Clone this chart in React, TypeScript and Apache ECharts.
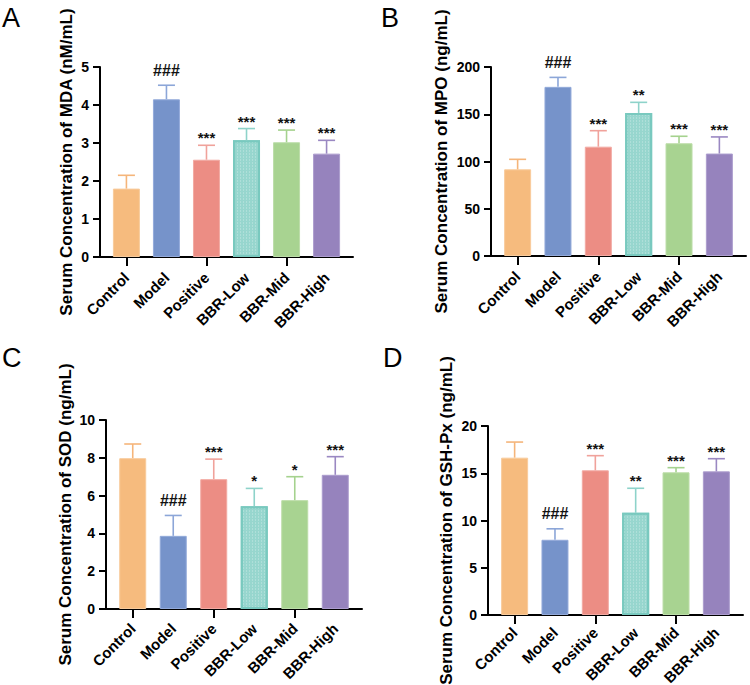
import React, { useEffect, useRef } from "react";
import * as echarts from "echarts";

const categories = ["Control", "Model", "Positive", "BBR-Low", "BBR-Mid", "BBR-High"];

const mdaMean = [1.8, 4.15, 2.56, 3.07, 3.02, 2.72];
const mdaSd = [0.35, 0.37, 0.38, 0.31, 0.32, 0.35];
const mdaMarks = ["", "###", "***", "***", "***", "***"];

const mpoMean = [91.7, 179, 115.7, 151.4, 119.3, 108.4];
const mpoSd = [10.6, 10, 16.9, 11.2, 7.4, 17.6];
const mpoMarks = ["", "###", "***", "**", "***", "***"];

const sodMean = [7.98, 3.87, 6.87, 5.44, 5.76, 7.1];
const sodSd = [0.75, 1.08, 1.06, 0.94, 1.24, 0.96];
const sodMarks = ["", "###", "***", "*", "*", "***"];

const gshMean = [16.65, 7.96, 15.31, 10.81, 15.1, 15.2];
const gshSd = [1.65, 1.16, 1.55, 2.6, 0.49, 1.34];
const gshMarks = ["", "###", "***", "**", "***", "***"];

const yTicksMax = [5, 200, 10, 20];
const yTicksStep = [1, 50, 2, 5];
const yNames = [
  "Serum Concentration of MDA (nM/mL)",
  "Serum Concentration of MPO (ng/mL)",
  "Serum Concentration of SOD (ng/mL)",
  "Serum Concentration of GSH-Px (ng/mL)",
];
const panelLetters = ["A", "B", "C", "D"];

const barColors = ["#F6BB7E", "#7693CA", "#EC8D84", "#97D6CE", "#A8D391", "#9683BD"];
const barBorders = ["#F8CB9C", "#93AADA", "#F2AAA3", "#79C9BF", "#BCDDA9", "#AC9DCE"];
const errColors = ["#F5B57A", "#8CA6D8", "#F0A29B", "#8ED3CA", "#A5D28E", "#9A88C2"];

const FONT = "'Liberation Sans', Arial, Helvetica, sans-serif";
const X_MIN = -0.66;
const X_MAX = 5.66;

export default function App() {
  const ref = useRef<HTMLDivElement>(null);

  useEffect(() => {
    if (!ref.current) return;
    const chart = echarts.init(ref.current, null, { renderer: "svg" });

    const panels = [
      { mean: mdaMean, sd: mdaSd, marks: mdaMarks },
      { mean: mpoMean, sd: mpoSd, marks: mpoMarks },
      { mean: sodMean, sd: sodSd, marks: sodMarks },
      { mean: gshMean, sd: gshSd, marks: gshMarks },
    ];

    const gridBoxes = [
      { left: 100, top: 67, width: 253, height: 190 },
      { left: 491, top: 67, width: 255, height: 189 },
      { left: 106, top: 420, width: 256, height: 189 },
      { left: 488, top: 426, width: 255, height: 189 },
    ];
    const nameGaps = [25, 41, 32, 33];
    const labelMargins = [18, 18, 17, 15];
    const letterPos = [
      { x: 2, y: 4 },
      { x: 381, y: 4 },
      { x: 2, y: 344 },
      { x: 383, y: 344 },
    ];

    const idx = categories.map((_, i) => i);
    const span = X_MAX - X_MIN;

    const grids: any[] = gridBoxes.map((g) => ({ ...g, containLabel: false, outerBoundsMode: "none" }));
    gridBoxes.forEach((g) => {
      const unit = g.width / span;
      grids.push({
        left: g.left + (-0.5 - X_MIN) * unit,
        top: g.top,
        width: 6 * unit,
        height: g.height,
        containLabel: false,
        outerBoundsMode: "none",
      });
    });

    const xAxes: any[] = gridBoxes.map((_, p) => ({
      type: "value",
      gridIndex: p,
      min: X_MIN,
      max: X_MAX,
      splitLine: { show: false },
      axisLine: { show: true, onZero: false, lineStyle: { color: "#000", width: 2 } },
      axisTick: { show: false },
      axisLabel: {
        customValues: idx,
        formatter: (v: number) => categories[Math.round(v)] ?? "",
        rotate: 45,
        fontSize: 15,
        fontWeight: "bold",
        color: "#000",
        fontFamily: FONT,
        margin: labelMargins[p],
      },
    }));
    gridBoxes.forEach((_, p) => {
      xAxes.push({
        type: "category",
        gridIndex: p + 4,
        data: categories,
        boundaryGap: true,
        splitLine: { show: false },
        axisLine: { show: false, onZero: false },
        axisTick: { show: true, alignWithLabel: true, length: 9, lineStyle: { color: "#000", width: 2 } },
        axisLabel: { show: false },
      });
    });

    const yAxes: any[] = gridBoxes.map((_, p) => ({
      type: "value",
      gridIndex: p,
      min: 0,
      max: yTicksMax[p],
      interval: yTicksStep[p],
      splitLine: { show: false },
      axisLine: { show: true, onZero: false, lineStyle: { color: "#000", width: 2 } },
      axisTick: { show: true, length: 7, lineStyle: { color: "#000", width: 2 } },
      axisLabel: { fontSize: 14, fontWeight: "bold", color: "#000", fontFamily: FONT, margin: 11 },
      name: yNames[p],
      nameLocation: "middle",
      nameGap: nameGaps[p],
      nameMoveOverlap: false,
      nameTextStyle: { fontSize: 17, fontWeight: "bold", color: "#000", fontFamily: FONT },
    }));
    gridBoxes.forEach((_, p) => {
      yAxes.push({
        type: "value",
        gridIndex: p + 4,
        min: 0,
        max: yTicksMax[p],
        show: false,
        splitLine: { show: false },
      });
    });

    const series: any[] = [];
    panels.forEach((pn, p) => {
      series.push({
        type: "bar",
        xAxisIndex: p,
        yAxisIndex: p,
        barWidth: 27,
        data: pn.mean.map((v, j) => ({
          value: [j, v],
          itemStyle: {
            color: barColors[j],
            borderColor: barBorders[j],
            borderWidth: j === 3 ? 2 : 1,
            decal:
              j === 3
                ? {
                    symbol: "rect",
                    symbolSize: 1,
                    color: "rgba(255,255,255,0.22)",
                    dashArrayX: [1, 2],
                    dashArrayY: [2, 1],
                  }
                : undefined,
          },
        })),
        z: 2,
      });
      series.push({
        type: "custom",
        xAxisIndex: p,
        yAxisIndex: p,
        clip: false,
        data: pn.mean.map((v, j) => [j, v, pn.sd[j]]),
        z: 3,
        renderItem: (params: any, api: any) => {
          const j = params.dataIndex;
          const x = api.value(0);
          const m = api.value(1);
          const s = api.value(2);
          const b = api.coord([x, m]);
          const t = api.coord([x, m + s]);
          const mark = pn.marks[j];
          const isHash = mark.indexOf("#") >= 0;
          const children: any[] = [
            {
              type: "line",
              shape: { x1: b[0], y1: b[1], x2: t[0], y2: t[1] },
              style: { stroke: errColors[j], lineWidth: 1.6 },
            },
            {
              type: "line",
              shape: { x1: t[0] - 8.5, y1: t[1], x2: t[0] + 8.5, y2: t[1] },
              style: { stroke: errColors[j], lineWidth: 1.6 },
            },
          ];
          if (mark) {
            children.push({
              type: "text",
              x: t[0],
              y: t[1] - (isHash ? 7 : 0),
              style: {
                text: mark,
                textAlign: "center",
                textVerticalAlign: "bottom",
                fontSize: isHash ? 16 : 15,
                fontWeight: "bold",
                fontFamily: FONT,
                fill: "#111",
              },
            });
          }
          return { type: "group", children };
        },
      });
    });

    const graphics = panelLetters.map((l, p) => ({
      type: "text",
      left: letterPos[p].x,
      top: letterPos[p].y,
      style: { text: l, fontSize: 27, fontFamily: FONT, fill: "#000" },
    }));

    chart.setOption({
      animation: false,
      backgroundColor: "#fff",
      textStyle: { fontFamily: FONT },
      grid: grids,
      xAxis: xAxes,
      yAxis: yAxes,
      series,
      graphic: graphics,
    });

    return () => chart.dispose();
  }, []);

  return (
    <div
      ref={ref}
      style={{ position: "fixed", left: 0, top: 0, width: 750, height: 685, background: "#fff" }}
    />
  );
}
